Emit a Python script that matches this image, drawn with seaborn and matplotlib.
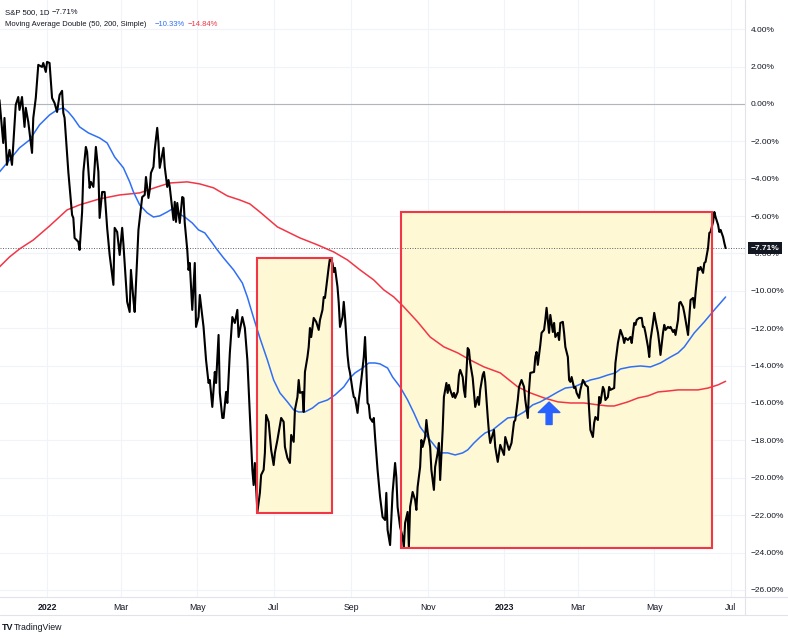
import numpy as np
import pandas as pd
import matplotlib
matplotlib.use("Agg")
import matplotlib.pyplot as plt
import matplotlib.dates as mdates
import seaborn as sns
from matplotlib.patches import Rectangle
from matplotlib.lines import Line2D

# ---------------- data (percent change) ----------------
price_dates = [
    "2021-11-24", "2021-11-27", "2021-11-28", "2021-11-30", "2021-12-02", "2021-12-04", "2021-12-07",
    "2021-12-09", "2021-12-10", "2021-12-12", "2021-12-14", "2021-12-15", "2021-12-17", "2021-12-20",
    "2021-12-21", "2021-12-23", "2021-12-25", "2021-12-28", "2021-12-29", "2021-12-31", "2022-01-01",
    "2022-01-03", "2022-01-05", "2022-01-07", "2022-01-09", "2022-01-11", "2022-01-13", "2022-01-14",
    "2022-01-15", "2022-01-18", "2022-01-21", "2022-01-22", "2022-01-23", "2022-01-26", "2022-01-27",
    "2022-01-29", "2022-01-30", "2022-02-01", "2022-02-02", "2022-02-04", "2022-02-05", "2022-02-07",
    "2022-02-09", "2022-02-11", "2022-02-12", "2022-02-14", "2022-02-16", "2022-02-18", "2022-02-20",
    "2022-02-23", "2022-02-24", "2022-02-26", "2022-02-28", "2022-03-02", "2022-03-03", "2022-03-06",
    "2022-03-08", "2022-03-09", "2022-03-11", "2022-03-12", "2022-03-15", "2022-03-18", "2022-03-20",
    "2022-03-21", "2022-03-23", "2022-03-24", "2022-03-25", "2022-03-27", "2022-03-28", "2022-03-30",
    "2022-03-31", "2022-04-01", "2022-04-04", "2022-04-05", "2022-04-07", "2022-04-08", "2022-04-09",
    "2022-04-12", "2022-04-13", "2022-04-14", "2022-04-15", "2022-04-17", "2022-04-19", "2022-04-20",
    "2022-04-21", "2022-04-23", "2022-04-24", "2022-04-25", "2022-04-27", "2022-04-29", "2022-04-30",
    "2022-05-02", "2022-05-03", "2022-05-06", "2022-05-08", "2022-05-10", "2022-05-11", "2022-05-13",
    "2022-05-15", "2022-05-16", "2022-05-18", "2022-05-19", "2022-05-21", "2022-05-22", "2022-05-24",
    "2022-05-25", "2022-05-27", "2022-05-29", "2022-05-31", "2022-06-02", "2022-06-03", "2022-06-06",
    "2022-06-08", "2022-06-10", "2022-06-12", "2022-06-14", "2022-06-15", "2022-06-16", "2022-06-18",
    "2022-06-20", "2022-06-21", "2022-06-23", "2022-06-24", "2022-06-25", "2022-06-27", "2022-06-29",
    "2022-07-01", "2022-07-02", "2022-07-04", "2022-07-07", "2022-07-09", "2022-07-10", "2022-07-12",
    "2022-07-14", "2022-07-15", "2022-07-17", "2022-07-18", "2022-07-20", "2022-07-21", "2022-07-22",
    "2022-07-24", "2022-07-25", "2022-07-26", "2022-07-28", "2022-07-29", "2022-07-30", "2022-07-31",
    "2022-08-02", "2022-08-04", "2022-08-06", "2022-08-07", "2022-08-09", "2022-08-10", "2022-08-11",
    "2022-08-13", "2022-08-14", "2022-08-15", "2022-08-17", "2022-08-18", "2022-08-19", "2022-08-21",
    "2022-08-22", "2022-08-23", "2022-08-25", "2022-08-26", "2022-08-27", "2022-08-29", "2022-08-30",
    "2022-08-31", "2022-09-02", "2022-09-03", "2022-09-04", "2022-09-06", "2022-09-07", "2022-09-09",
    "2022-09-11", "2022-09-12", "2022-09-13", "2022-09-14", "2022-09-15", "2022-09-16", "2022-09-18",
    "2022-09-19", "2022-09-20", "2022-09-22", "2022-09-24", "2022-09-26", "2022-09-28", "2022-09-29",
    "2022-09-30", "2022-10-02", "2022-10-04", "2022-10-06", "2022-10-07", "2022-10-08", "2022-10-10",
    "2022-10-12", "2022-10-13", "2022-10-14", "2022-10-16", "2022-10-17", "2022-10-18", "2022-10-20",
    "2022-10-22", "2022-10-23", "2022-10-24", "2022-10-26", "2022-10-27", "2022-10-28", "2022-10-30",
    "2022-10-31", "2022-11-01", "2022-11-03", "2022-11-04", "2022-11-06", "2022-11-07", "2022-11-09",
    "2022-11-10", "2022-11-11", "2022-11-13", "2022-11-14", "2022-11-15", "2022-11-16", "2022-11-17",
    "2022-11-18", "2022-11-19", "2022-11-21", "2022-11-22", "2022-11-23", "2022-11-25", "2022-11-26",
    "2022-11-27", "2022-11-29", "2022-11-30", "2022-12-01", "2022-12-03", "2022-12-04", "2022-12-05",
    "2022-12-07", "2022-12-08", "2022-12-09", "2022-12-11", "2022-12-12", "2022-12-13", "2022-12-15",
    "2022-12-16", "2022-12-17", "2022-12-19", "2022-12-20", "2022-12-21", "2022-12-24", "2022-12-25",
    "2022-12-27", "2022-12-29", "2023-01-01", "2023-01-02", "2023-01-05", "2023-01-07", "2023-01-09",
    "2023-01-10", "2023-01-12", "2023-01-13", "2023-01-15", "2023-01-17", "2023-01-18", "2023-01-20",
    "2023-01-21", "2023-01-22", "2023-01-25", "2023-01-26", "2023-01-27", "2023-01-28", "2023-01-30",
    "2023-01-31", "2023-02-02", "2023-02-03", "2023-02-04", "2023-02-05", "2023-02-06", "2023-02-07",
    "2023-02-09", "2023-02-10", "2023-02-11", "2023-02-13", "2023-02-14", "2023-02-15", "2023-02-17",
    "2023-02-18", "2023-02-19", "2023-02-21", "2023-02-22", "2023-02-23", "2023-02-24", "2023-02-26",
    "2023-02-27", "2023-02-28", "2023-03-02", "2023-03-03", "2023-03-05", "2023-03-06", "2023-03-07",
    "2023-03-09", "2023-03-10", "2023-03-11", "2023-03-13", "2023-03-14", "2023-03-15", "2023-03-17",
    "2023-03-18", "2023-03-19", "2023-03-21", "2023-03-22", "2023-03-23", "2023-03-25", "2023-03-26",
    "2023-03-27", "2023-03-30", "2023-03-31", "2023-04-02", "2023-04-04", "2023-04-06", "2023-04-07",
    "2023-04-08", "2023-04-10", "2023-04-12", "2023-04-13", "2023-04-15", "2023-04-16", "2023-04-17",
    "2023-04-19", "2023-04-21", "2023-04-22", "2023-04-23", "2023-04-24", "2023-04-26", "2023-04-27",
    "2023-04-28", "2023-04-30", "2023-05-01", "2023-05-02", "2023-05-04", "2023-05-05", "2023-05-06",
    "2023-05-08", "2023-05-09", "2023-05-10", "2023-05-12", "2023-05-13", "2023-05-14", "2023-05-16",
    "2023-05-17", "2023-05-18", "2023-05-20", "2023-05-21", "2023-05-22", "2023-05-24", "2023-05-25",
    "2023-05-26", "2023-05-28", "2023-05-29", "2023-05-30", "2023-06-01", "2023-06-02", "2023-06-03",
    "2023-06-05", "2023-06-06", "2023-06-07", "2023-06-09", "2023-06-10", "2023-06-11", "2023-06-13",
    "2023-06-14", "2023-06-15", "2023-06-17", "2023-06-18", "2023-06-19", "2023-06-21", "2023-06-22",
    "2023-06-23", "2023-06-25", "2023-06-26", "2023-06-27",
]
price_pct = [
    0.21, -2.09, -0.75, -3.26, -2.46, -3.26, -0.05,
    0.37, -0.32, 0.37, -1.23, -0.21, -0.96, -2.62,
    -0.75, 0.32, 2.09, 1.98, 2.19, 1.71, 2.25,
    2.19, 0.32, 0.05, -0.43, 0.48, 0.70, -0.48,
    -0.75, -3.64, -5.94, -6.10, -7.17, -7.38, -7.81,
    -5.78, -3.64, -2.30, -2.57, -4.49, -4.17, -4.44,
    -2.30, -3.64, -6.10, -4.71, -4.71, -6.63, -8.08,
    -9.68, -6.63, -6.85, -8.08, -6.63, -7.50, -10.59,
    -11.13, -8.88, -10.49, -11.13, -6.74, -4.98, -4.87,
    -3.91, -5.03, -4.60, -3.69, -3.37, -2.46, -1.28,
    -2.09, -3.42, -2.35, -3.37, -4.44, -4.07, -4.44,
    -6.21, -5.24, -6.31, -5.30, -6.37, -4.98, -5.03,
    -6.37, -7.81, -8.88, -8.51, -11.02, -8.51, -11.93,
    -11.40, -10.22, -11.93, -13.70, -14.93, -14.77, -16.21,
    -14.34, -14.93, -12.36, -15.46, -16.80, -16.80, -15.41,
    -16.00, -13.32, -11.40, -11.72, -11.02, -12.47, -11.40,
    -11.99, -13.70, -16.64, -19.58, -20.39, -19.21, -21.83,
    -20.81, -19.85, -19.58, -18.67, -16.64, -17.01, -18.51,
    -19.32, -18.67, -17.98, -16.80, -17.01, -18.35, -18.94,
    -19.21, -17.71, -18.08, -16.37, -15.68, -14.77, -15.46,
    -15.41, -16.48, -14.34, -13.54, -13.00, -11.99, -12.47,
    -11.45, -11.66, -12.09, -11.56, -11.02, -10.33, -10.38,
    -9.26, -8.72, -8.24, -8.51, -8.99, -8.77, -9.79,
    -10.65, -11.93, -11.40, -10.59, -11.40, -13.43, -14.07,
    -14.39, -15.30, -15.68, -15.73, -16.53, -15.84, -14.77,
    -13.54, -12.47, -14.07, -16.00, -16.10, -16.80, -17.01,
    -16.80, -17.82, -19.58, -21.03, -22.10, -22.26, -20.81,
    -22.79, -23.60, -20.81, -19.21, -19.96, -21.56, -22.63,
    -23.17, -23.70, -22.42, -21.83, -23.70, -21.56, -20.76,
    -21.19, -21.72, -20.49, -19.42, -17.98, -18.35, -17.82,
    -16.91, -17.55, -18.35, -19.58, -20.65, -19.42, -18.67,
    -18.14, -20.12, -17.44, -15.68, -15.30, -14.93, -15.46,
    -15.03, -15.30, -15.68, -15.46, -15.73, -15.41, -14.50,
    -14.23, -14.61, -15.30, -15.68, -13.06, -13.16, -13.86,
    -14.66, -15.46, -16.21, -15.68, -16.10, -15.30, -14.50,
    -14.34, -14.87, -16.75, -17.60, -18.14, -17.44, -18.35,
    -19.15, -18.24, -18.78, -17.82, -18.51, -18.14, -17.01,
    -16.91, -15.84, -15.14, -14.77, -15.14, -15.84, -16.80,
    -15.30, -14.39, -14.34, -13.54, -13.27, -13.96, -12.89,
    -12.25, -12.09, -11.56, -10.91, -11.56, -12.25, -11.29,
    -12.20, -11.72, -12.47, -12.25, -12.63, -11.72, -11.66,
    -12.25, -13.00, -13.54, -14.77, -14.87, -14.61, -15.20,
    -15.14, -15.46, -15.73, -15.30, -14.77, -14.87, -15.03,
    -15.14, -16.37, -17.44, -17.82, -17.07, -16.75, -16.91,
    -15.68, -16.00, -15.14, -15.30, -15.84, -15.68, -15.14,
    -15.30, -15.20, -13.86, -12.79, -12.09, -12.47, -12.79,
    -12.52, -12.63, -12.47, -12.79, -11.72, -11.82, -11.56,
    -11.45, -11.45, -11.93, -11.93, -12.25, -13.00, -13.54,
    -12.63, -11.72, -11.18, -11.56, -12.25, -12.79, -13.43,
    -12.25, -11.82, -12.09, -11.93, -11.99, -11.93, -12.20,
    -12.09, -12.36, -11.56, -10.65, -10.59, -10.86, -11.18,
    -11.56, -12.36, -11.40, -10.49, -10.38, -10.91, -10.11,
    -8.77, -8.88, -8.72, -9.04, -8.51, -8.45, -7.70,
    -6.90, -6.85, -6.31, -5.78, -6.05, -6.47, -6.85,
    -6.74, -7.12, -7.44, -7.71,
]

ma50_dates = [
    "2021-11-24", "2021-12-02", "2021-12-10", "2021-12-18", "2021-12-26", "2022-01-03", "2022-01-09",
    "2022-01-14", "2022-01-18", "2022-01-22", "2022-01-27", "2022-02-03", "2022-02-12", "2022-02-18",
    "2022-02-24", "2022-03-03", "2022-03-08", "2022-03-11", "2022-03-16", "2022-03-22", "2022-03-27",
    "2022-04-01", "2022-04-07", "2022-04-11", "2022-04-15", "2022-04-21", "2022-04-27", "2022-05-02",
    "2022-05-07", "2022-05-13", "2022-05-17", "2022-05-22", "2022-05-30", "2022-06-06", "2022-06-10",
    "2022-06-15", "2022-06-20", "2022-06-26", "2022-07-01", "2022-07-06", "2022-07-12", "2022-07-17",
    "2022-07-21", "2022-07-26", "2022-08-01", "2022-08-06", "2022-08-13", "2022-08-19", "2022-08-26",
    "2022-08-31", "2022-09-04", "2022-09-10", "2022-09-15", "2022-09-20", "2022-09-24", "2022-09-30",
    "2022-10-04", "2022-10-10", "2022-10-16", "2022-10-21", "2022-10-26", "2022-11-01", "2022-11-06",
    "2022-11-11", "2022-11-17", "2022-11-23", "2022-11-29", "2022-12-03", "2022-12-08", "2022-12-13",
    "2022-12-17", "2022-12-23", "2022-12-28", "2023-01-04", "2023-01-10", "2023-01-17", "2023-01-24",
    "2023-01-30", "2023-02-06", "2023-02-13", "2023-02-19", "2023-02-26", "2023-03-05", "2023-03-11",
    "2023-03-18", "2023-03-25", "2023-03-31", "2023-04-04", "2023-04-12", "2023-04-20", "2023-04-28",
    "2023-05-06", "2023-05-14", "2023-05-20", "2023-05-25", "2023-06-02", "2023-06-10", "2023-06-18",
    "2023-06-27",
]
ma50_pct = [
    -3.64, -3.00, -2.35, -1.93, -1.12, -0.59, -0.32,
    -0.21, -0.43, -0.75, -1.23, -1.55, -1.82, -2.09,
    -2.84, -3.42, -4.17, -4.71, -5.40, -5.83, -6.05,
    -5.99, -5.78, -5.62, -5.83, -6.05, -6.37, -6.74,
    -6.90, -7.44, -7.81, -8.24, -8.88, -9.58, -10.33,
    -11.45, -12.52, -13.70, -14.77, -15.46, -15.94, -16.37,
    -16.48, -16.48, -16.27, -16.00, -15.84, -15.57, -15.14,
    -14.66, -14.39, -14.13, -13.86, -13.86, -13.91, -14.13,
    -14.61, -15.14, -15.84, -16.53, -17.28, -17.82, -18.24,
    -18.67, -18.67, -18.78, -18.67, -18.51, -18.14, -17.82,
    -17.60, -17.44, -17.17, -16.80, -16.75, -16.48, -16.10,
    -15.94, -15.68, -15.41, -15.20, -15.14, -14.93, -14.77,
    -14.66, -14.50, -14.39, -14.18, -14.07, -14.02, -14.07,
    -13.86, -13.54, -13.32, -13.00, -12.25, -11.66, -11.02,
    -10.33,
]

ma200_dates = [
    "2021-11-24", "2021-12-02", "2021-12-10", "2021-12-21", "2022-01-03", "2022-01-17", "2022-01-27",
    "2022-02-12", "2022-02-28", "2022-03-16", "2022-03-30", "2022-04-09", "2022-04-23", "2022-05-03",
    "2022-05-14", "2022-05-25", "2022-06-04", "2022-06-12", "2022-06-20", "2022-07-04", "2022-07-22",
    "2022-08-05", "2022-08-18", "2022-08-29", "2022-09-08", "2022-09-19", "2022-09-27", "2022-10-05",
    "2022-10-13", "2022-10-24", "2022-11-03", "2022-11-14", "2022-11-25", "2022-12-05", "2022-12-16",
    "2022-12-29", "2023-01-12", "2023-01-22", "2023-02-02", "2023-02-13", "2023-02-23", "2023-03-06",
    "2023-03-17", "2023-03-25", "2023-03-30", "2023-04-10", "2023-04-18", "2023-04-26", "2023-05-04",
    "2023-05-12", "2023-05-20", "2023-05-28", "2023-06-05", "2023-06-13", "2023-06-21", "2023-06-27",
]
ma200_pct = [
    -8.72, -8.19, -7.76, -7.28, -6.53, -5.67, -5.40,
    -5.08, -4.87, -4.76, -4.44, -4.23, -4.17, -4.28,
    -4.49, -4.92, -5.14, -5.35, -5.78, -6.58, -7.17,
    -7.54, -7.92, -8.35, -8.88, -9.42, -9.95, -10.33,
    -10.86, -11.66, -12.47, -13.00, -13.32, -13.70, -14.07,
    -14.39, -15.14, -15.46, -15.73, -15.94, -16.00, -16.00,
    -16.10, -16.16, -16.16, -15.94, -15.73, -15.62, -15.41,
    -15.36, -15.30, -15.30, -15.30, -15.20, -15.03, -14.84,
]

box_start = ["2022-06-18", "2022-10-11"]
box_end = ["2022-08-17", "2023-06-16"]
box_low = [-21.88, -23.76]
box_high = [-8.24, -5.78]

arrow_date = "2023-02-06"
arrow_tip = -15.95
arrow_tail = -17.15

last_price = -7.71
last_ma50 = -10.33
last_ma200 = -14.84

y_ticks = list(range(-26, 5, 2))
x_tick_dates = ["2022-01-01", "2022-03-01", "2022-05-01", "2022-07-01", "2022-09-01",
                "2022-11-01", "2023-01-01", "2023-03-01", "2023-05-01", "2023-07-01"]
x_tick_labels = ["2022", "Mar", "May", "Jul", "Sep", "Nov", "2023", "Mar", "May", "Jul"]

# ---------------- styling ----------------
sns.set_theme(style="white")
plt.rcParams["font.family"] = ["Liberation Sans", "DejaVu Sans"]

TEXT = "#131722"
BLUE = "#2f6ff6"
RED = "#f23645"
GRID = "#f0f3fa"

W, H = 788, 638
fig = plt.figure(figsize=(W / 100, H / 100), dpi=100)
fig.patch.set_facecolor("white")
ax = fig.add_axes([0, (H - 597) / H, 745 / W, 597 / H])
ax.set_facecolor("white")

price = pd.DataFrame({"date": pd.to_datetime(price_dates), "pct": price_pct})
ma50 = pd.DataFrame({"date": pd.to_datetime(ma50_dates), "pct": ma50_pct})
ma200 = pd.DataFrame({"date": pd.to_datetime(ma200_dates), "pct": ma200_pct})

# boxes
for s, e, lo, hi in zip(box_start, box_end, box_low, box_high):
    x0 = mdates.date2num(pd.Timestamp(s))
    x1 = mdates.date2num(pd.Timestamp(e))
    ax.add_patch(Rectangle((x0, lo), x1 - x0, hi - lo, facecolor="#fff8d4",
                           edgecolor="none", zorder=1))
    ax.add_patch(Rectangle((x0, lo), x1 - x0, hi - lo, facecolor="none",
                           edgecolor=RED, linewidth=1.5, zorder=4))

ax.axhline(0, color="#b2b5be", lw=0.8, zorder=1.5)
ax.axhline(last_price, color="#5d606b", lw=0.7, ls=(0, (1, 1.6)), zorder=1.5)

sns.lineplot(data=ma200, x="date", y="pct", ax=ax, color=RED, lw=1.1,
             estimator=None, sort=False, zorder=3)
sns.lineplot(data=ma50, x="date", y="pct", ax=ax, color=BLUE, lw=1.1,
             estimator=None, sort=False, zorder=3)
sns.lineplot(data=price, x="date", y="pct", ax=ax, color="#000000", lw=1.5,
             estimator=None, sort=False, zorder=3.5)

# arrow
ad = pd.Timestamp(arrow_date)
ax.annotate("", xy=(ad, arrow_tip), xytext=(ad, arrow_tail),
            arrowprops=dict(facecolor="#2962ff", edgecolor="#2962ff", width=4.3,
                            headwidth=15.5, headlength=7.5, shrink=0), zorder=5)

# axes ranges
ax.set_xlim(pd.Timestamp("2021-11-24 10:00"), pd.Timestamp("2023-07-12 12:00"))
ax.set_ylim(-26.38, 5.56)

ax.set_xticks(pd.to_datetime(x_tick_dates))
ax.set_xticklabels(x_tick_labels)
for lbl in ax.get_xticklabels():
    if lbl.get_text() in ("2022", "2023"):
        lbl.set_fontweight("bold")
ax.yaxis.tick_right()
ax.set_yticks(y_ticks)
ax.set_yticklabels([f"{v:.2f}%".replace("-", "\u2212") for v in y_ticks])
ax.tick_params(axis="x", length=0, pad=4, labelsize=6.3, labelcolor=TEXT)
ax.tick_params(axis="y", length=0, pad=4, labelsize=6, labelcolor=TEXT)
ax.grid(True, color=GRID, lw=0.8)
ax.set_axisbelow(True)
ax.set_xlabel("")
ax.set_ylabel("")
for sp in ax.spines.values():
    sp.set_visible(False)

# last price label
ax.annotate(f"{last_price:.2f}%".replace("-", "\u2212"), xy=(1.0, last_price),
            xycoords=("axes fraction", "data"), xytext=(4, 0), textcoords="offset points",
            ha="left", va="center", color="white", fontsize=6, fontweight="bold",
            bbox=dict(boxstyle="square,pad=0.35", fc=TEXT, ec="none"),
            annotation_clip=False, zorder=10)

# panel borders
fig.add_artist(Line2D([745 / W, 745 / W], [(H - 615) / H, 1], color="#e0e3eb", lw=0.8))
fig.add_artist(Line2D([0, 1], [(H - 597) / H, (H - 597) / H], color="#e0e3eb", lw=0.8))
fig.add_artist(Line2D([0, 1], [(H - 615) / H, (H - 615) / H], color="#e0e3eb", lw=0.8))

# header legend
def fx(px):
    return px / W

def fy(py):
    return 1 - py / H

fig.text(fx(5), fy(13), "S&P 500, 1D", fontsize=5.6, color=TEXT, va="center")
fig.text(fx(52), fy(13), f"{last_price:.2f}%".replace("-", "\u2212"), fontsize=5.6,
         color=TEXT, va="center")
fig.text(fx(5), fy(24), "Moving Average Double (50, 200, Simple)", fontsize=5.5,
         color=TEXT, va="center")
fig.text(fx(155), fy(24), f"{last_ma50:.2f}%".replace("-", "\u2212"), fontsize=5.5,
         color=BLUE, va="center")
fig.text(fx(188), fy(24), f"{last_ma200:.2f}%".replace("-", "\u2212"), fontsize=5.5,
         color=RED, va="center")

# footer
fig.text(fx(2), fy(627), "TV", fontsize=6.5, fontweight="bold", color=TEXT, va="center")
fig.text(fx(14), fy(627), "TradingView", fontsize=6.3, color=TEXT, va="center")

fig.savefig("out.png", dpi=100, facecolor="white")
